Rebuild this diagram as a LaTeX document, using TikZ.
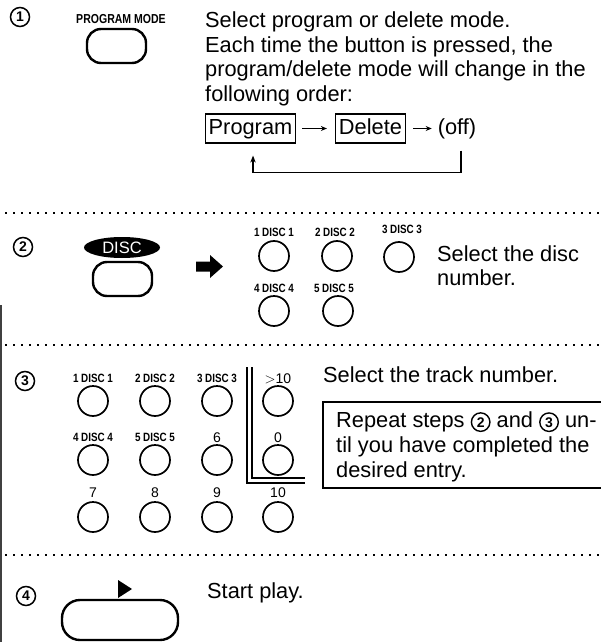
\documentclass[tikz,border=0pt]{standalone}
\usepackage{fontspec}
\setmainfont{Liberation Sans}
\usetikzlibrary{arrows.meta,shapes.geometric}
\newcommand\cnum[1]{\tikz[baseline=(cn.base)]\node[circle,draw,line width=1.4pt,inner sep=0pt,minimum size=18.5pt,font=\fontsize{14}{14}\selectfont\bfseries](cn){#1};}
\tikzset{
  body/.style={anchor=base west, inner sep=0pt, font=\fontsize{21.8}{24.5}\selectfont},
  small/.style={anchor=base, inner sep=0pt, font=\fontsize{12}{12}\selectfont\bfseries},
  digit/.style={anchor=base, inner sep=0pt, font=\fontsize{14}{14}\selectfont},
  key/.style={circle, draw, line width=1.7pt, minimum size=30pt, inner sep=0pt},
  pill/.style={draw, line width=2.4pt, inner sep=0pt},
  stepnum/.style={circle, draw, line width=1.5pt, minimum size=19pt, inner sep=0pt, font=\fontsize{14}{14}\selectfont\bfseries},
  dots/.style={line width=2pt, dash pattern=on 2pt off 6pt},
  modebox/.style={draw, line width=1.2pt, inner xsep=3.5pt, inner ysep=4.4pt, text height=15.6pt, text depth=4.6pt, font=\fontsize{21.8}{24.5}\selectfont},
  arr/.style={line width=1.2pt, -{Stealth[length=6pt,width=5pt]}},
  looparr/.style={line width=1.4pt, -{Stealth[length=7pt,width=5.5pt]}}
}
\newcommand\sq[1]{\scalebox{0.82}[1]{#1}}
\begin{document}
\begin{tikzpicture}[x=1pt,y=-1pt]
\useasboundingbox (0,0) rectangle (601,642);
\clip (0,0) rectangle (601,642);
\fill[white] (0,0) rectangle (601,642);

% page edge
\draw[black!75, line width=1.5pt] (1,305) -- (1,642);

% dividers
\draw[dots] (5,213) -- (601,213);
\draw[dots] (5,345) -- (601,345);
\draw[dots] (5,555) -- (601,555);

% step numbers
\node[stepnum] (s1) at (20,17) {1};
\node[stepnum] (s2) at (23,247) {2};
\node[stepnum] (s3) at (25,381) {3};
\node[stepnum] (s4) at (26,596) {4};

% ---------- section 1
\node[small, font=\fontsize{13}{13}\selectfont\bfseries] (pmlbl) at (121,23.5) {\scalebox{0.81}[1]{PROGRAM MODE}};
\node[pill, minimum width=59pt, minimum height=34pt, rounded corners=14pt] (pmbtn) at (116.5,46) {};
\node[body] (l1) at (205,28) {Select program or delete mode.};
\node[body] (l2) at (205,52.5) {Each time the button is pressed, the};
\node[body] (l3) at (205,77) {program/delete mode will change in the};
\node[body] (l4) at (205,101.5) {following order:};
\node[modebox] (prog) at (250.5,128.5) {Program};
\node[modebox] (del) at (370.5,128.5) {Delete};
\node[modebox, draw=none] (off) at (457,128.5) {(off)};
\draw[arr, shorten <=6pt, shorten >=8pt] (prog.east) -- (del.west);
\draw[arr, shorten <=7pt, shorten >=2pt] (del.east) -- (off.west);
\draw[looparr] ([xshift=4pt,yshift=-7pt]off.south) -- ++(0,22) -| ([xshift=2.5pt,yshift=-12pt]prog.south);

% ---------- section 2
\node[ellipse, fill=black, minimum width=76pt, minimum height=21pt, inner sep=0pt, text=white, font=\fontsize{16.5}{16.5}\selectfont] (disclbl) at (122,247.5) {DISC};
\node[pill, minimum width=59pt, minimum height=34pt, rounded corners=14pt] (discbtn) at (122.5,279) {};
\fill (196,261.5) -- (210,261.5) -- (210,255) -- (223,266.5) -- (210,278) -- (210,271.5) -- (196,271.5) -- cycle;
\node[key] (d1) at (274,256) {};
\node[key] (d2) at (337,256) {};
\node[key] (d3) at (399,257) {};
\node[key] (d4) at (274,311) {};
\node[key] (d5) at (338,311) {};
\node[small] (d1l) at (274,236.3) {\sq{1 DISC 1}};
\node[small] (d2l) at (335,236.3) {\sq{2 DISC 2}};
\node[small] (d3l) at (402,233.3) {\sq{3 DISC 3}};
\node[small] (d4l) at (274,292) {\sq{4 DISC 4}};
\node[small] (d5l) at (334,292) {\sq{5 DISC 5}};
\node[body] (t2a) at (437,261) {Select the disc};
\node[body] (t2b) at (437,285.5) {number.};

% ---------- section 3
\foreach \c/\x in {1/93,2/155,3/217,4/278}{
  \foreach \r/\y in {1/401,2/460,3/517}{
    \node[key] (k\r\c) at (\x,\y) {};
  }
}
\node[small] (k11l) at (93,382.3) {\sq{1 DISC 1}};
\node[small] (k12l) at (155,382.3) {\sq{2 DISC 2}};
\node[small] (k13l) at (217,382.3) {\sq{3 DISC 3}};
\node[digit] (k14l) at (278,383) {\fontspec{Latin Modern Roman}$>$\fontspec{Liberation Sans}10};
\node[small] (k21l) at (93,441.3) {\sq{4 DISC 4}};
\node[small] (k22l) at (155,441.3) {\sq{5 DISC 5}};
\node[digit] (k23l) at (217,442) {6};
\node[digit] (k24l) at (278,442) {0};
\node[digit] (k31l) at (93,497) {7};
\node[digit] (k32l) at (155,497) {8};
\node[digit] (k33l) at (217,497) {9};
\node[digit] (k34l) at (278,497) {10};
\draw[line width=1.6pt] (247,367) -- (247,483) -- (305,483);
\draw[line width=1.6pt] (252,367) -- (252,478) -- (305,478);
\node[body] (t3) at (323,382) {Select the track number.};
\draw[line width=1.5pt] (606,402) -- (323,402) -- (323,488) -- (606,488);
\node[body] (r1) at (336,427) {Repeat steps \cnum{2} and \cnum{3} un-};
\node[body] (r2) at (336,452) {til you have completed the};
\node[body] (r3) at (336,477) {desired entry.};

% ---------- section 4
\fill (118,580) -- (132,589) -- (118,598) -- cycle;
\node[pill, minimum width=116pt, minimum height=40pt, rounded corners=18pt] (playbtn) at (120,620) {};
\node[body] (t4) at (207,598) {Start play.};
\end{tikzpicture}
\end{document}
